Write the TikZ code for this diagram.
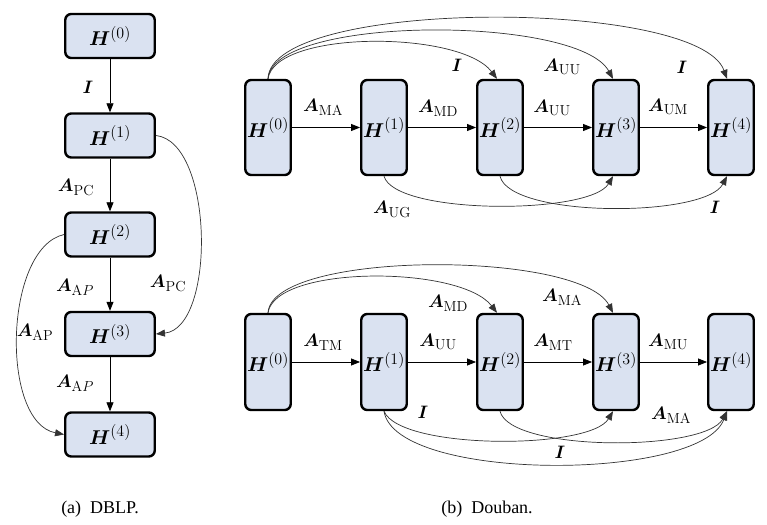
\RequirePackage{fix-cm}
\documentclass[tikz,border=0pt]{standalone}
\usepackage{amsmath,bm}
\usepackage{fontspec}
\newfontfamily\capfont{Liberation Serif}
\usetikzlibrary{arrows.meta}
\DeclareMathSizes{20}{20}{16}{12}
\DeclareMathSizes{18}{18}{14.5}{10}
\definecolor{boxfill}{RGB}{218,226,241}
\begin{document}
\begin{tikzpicture}[x=1pt,y=-1pt,
  hbox/.style={draw, line width=2.4pt, rounded corners=6pt, fill=boxfill, inner sep=0pt, font=\fontsize{20}{22}\selectfont},
  tallbox/.style={hbox, minimum width=45.5pt, minimum height=95pt},
  widebox/.style={hbox, minimum width=89.5pt, minimum height=44pt},
  arr/.style={-{Triangle[length=9pt,width=7pt]}, line width=0.8pt},
  carr/.style={-{Triangle[length=9pt,width=7pt]}, line width=0.7pt, draw=black!80},
  lab/.style={font=\fontsize{18}{20}\selectfont, inner sep=0pt},
  captext/.style={font=\capfont\fontsize{18}{20}\selectfont, inner sep=0pt}]
\fill[white] (0,0) rectangle (767,524);
\useasboundingbox (0,0) rectangle (767,524);

% (a) DBLP
\node[widebox] (a0) at (110,36)    {$\boldsymbol{H}^{(0)}$};
\node[widebox] (a1) at (110,135.5) {$\boldsymbol{H}^{(1)}$};
\node[widebox] (a2) at (110,234.5) {$\boldsymbol{H}^{(2)}$};
\node[widebox] (a3) at (110,334)   {$\boldsymbol{H}^{(3)}$};
\node[widebox] (a4) at (110,434.5) {$\boldsymbol{H}^{(4)}$};
\draw[arr] (a0) -- (a1);
\draw[arr] (a1) -- (a2);
\draw[arr] (a2) -- (a3);
\draw[arr] (a3) -- (a4);
\node[lab] (la1) at (88,87)  {$\boldsymbol{I}$};
\node[lab] (la2) at (76,187) {$\boldsymbol{A}_{\mathrm{PC}}$};
\node[lab] (la3) at (75,287) {$\boldsymbol{A}_{\mathrm{A}P}$};
\node[lab] (la4) at (75,383) {$\boldsymbol{A}_{\mathrm{A}P}$};
\draw[carr] (a1.east) .. controls (214,142) and (216,328) .. (a3.east);
\node[lab] (la5) at (168,283) {$\boldsymbol{A}_{\mathrm{PC}}$};
\draw[carr] (a2.west) .. controls (4,248) and (0,422) .. (a4.west);
\node[lab] (la6) at (35,332) {$\boldsymbol{A}_{\mathrm{AP}}$};
\node[captext] (capa) at (100,509) {(a)\ \ DBLP.};

% (b) Douban, top
\node[tallbox] (b0) at (268,127.5) {$\boldsymbol{H}^{(0)}$};
\node[tallbox] (b1) at (384,127.5) {$\boldsymbol{H}^{(1)}$};
\node[tallbox] (b2) at (500,127.5) {$\boldsymbol{H}^{(2)}$};
\node[tallbox] (b3) at (616,127.5) {$\boldsymbol{H}^{(3)}$};
\node[tallbox] (b4) at (731,127.5) {$\boldsymbol{H}^{(4)}$};
\draw[arr] (b0) -- (b1);
\draw[arr] (b1) -- (b2);
\draw[arr] (b2) -- (b3);
\draw[arr] (b3) -- (b4);
\node[lab] (lb1) at (323,107) {$\boldsymbol{A}_{\mathrm{MA}}$};
\node[lab] (lb2) at (438,108) {$\boldsymbol{A}_{\mathrm{MD}}$};
\node[lab] (lb3) at (552,108) {$\boldsymbol{A}_{\mathrm{UU}}$};
\node[lab] (lb4) at (668,107) {$\boldsymbol{A}_{\mathrm{UM}}$};
\draw[carr] (b0.north) .. controls (275,30) and (460,30) .. ([xshift=-3pt]b2.north);
\draw[carr] (b0.north) .. controls (272,15) and (578,15) .. ([xshift=-3pt]b3.north);
\draw[carr] (b0.north) .. controls (270,-2) and (698,-2) .. ([xshift=-4pt]b4.north);
\node[lab] (lb5) at (457,65) {$\boldsymbol{I}$};
\node[lab] (lb6) at (562,67) {$\boldsymbol{A}_{\mathrm{UU}}$};
\node[lab] (lb7) at (682,67) {$\boldsymbol{I}$};
\draw[carr] (b1.south) .. controls (395,215) and (590,215) .. ([xshift=-3pt]b3.south);
\draw[carr] (b2.south) .. controls (510,218) and (705,218) .. ([xshift=-4pt]b4.south);
\node[lab] (lb8) at (392,209) {$\boldsymbol{A}_{\mathrm{UG}}$};
\node[lab] (lb9) at (715,207) {$\boldsymbol{I}$};

% (b) Douban, bottom
\node[tallbox, minimum height=96pt] (c0) at (268,362) {$\boldsymbol{H}^{(0)}$};
\node[tallbox, minimum height=96pt] (c1) at (384,362) {$\boldsymbol{H}^{(1)}$};
\node[tallbox, minimum height=96pt] (c2) at (500,362) {$\boldsymbol{H}^{(2)}$};
\node[tallbox, minimum height=96pt] (c3) at (616,362) {$\boldsymbol{H}^{(3)}$};
\node[tallbox, minimum height=96pt] (c4) at (731,362) {$\boldsymbol{H}^{(4)}$};
\draw[arr] (c0) -- (c1);
\draw[arr] (c1) -- (c2);
\draw[arr] (c2) -- (c3);
\draw[arr] (c3) -- (c4);
\node[lab] (lc1) at (323,342) {$\boldsymbol{A}_{\mathrm{TM}}$};
\node[lab] (lc2) at (438,342) {$\boldsymbol{A}_{\mathrm{UU}}$};
\node[lab] (lc3) at (553,342) {$\boldsymbol{A}_{\mathrm{MT}}$};
\node[lab] (lc4) at (668,342) {$\boldsymbol{A}_{\mathrm{MU}}$};
\draw[carr] (c0.north) .. controls (275,265) and (460,265) .. ([xshift=-3pt]c2.north);
\draw[carr] (c0.north) .. controls (272,250) and (580,250) .. ([xshift=-3pt]c3.north);
\node[lab] (lc5) at (448,303) {$\boldsymbol{A}_{\mathrm{MD}}$};
\node[lab] (lc6) at (562,297) {$\boldsymbol{A}_{\mathrm{MA}}$};
\draw[carr] (c1.south) .. controls (400,450) and (590,450) .. ([xshift=-3pt]c3.south);
\draw[carr] (c2.south) .. controls (510,452) and (705,452) .. ([xshift=-4pt]c4.south);
\draw[carr] (c1.south) .. controls (395,482) and (700,482) .. ([xshift=-4pt]c4.south);
\node[lab] (lc7) at (423,412) {$\boldsymbol{I}$};
\node[lab] (lc8) at (671,415) {$\boldsymbol{A}_{\mathrm{MA}}$};
\node[lab] (lc9) at (560,452) {$\boldsymbol{I}$};
\node[captext] (capb) at (487,509) {(b)\ \ Douban.};
\end{tikzpicture}
\end{document}
